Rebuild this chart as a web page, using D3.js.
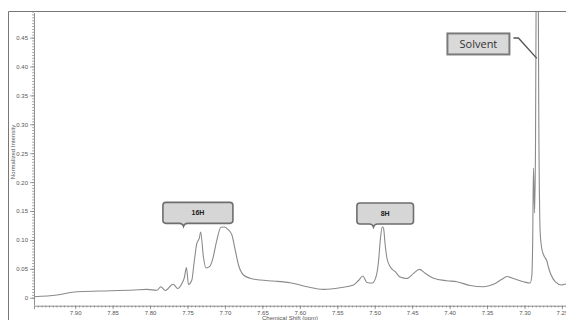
<!DOCTYPE html>
<html>
<head>
<meta charset="utf-8">
<script src="https://cdn.jsdelivr.net/npm/d3@7"></script>
<style>
  body { margin: 0; background: #fff; }
  svg { display: block; }
</style>
</head>
<body>
<svg id="chart"></svg>
<script>
// Spectrum (chemical shift in ppm, normalized intensity)
const shifts = [
  7.9548, 7.9244, 7.8977, 7.8666, 7.8221, 7.8042, 7.7909, 7.7855, 7.7798, 7.7691,
  7.7631, 7.7575, 7.7544, 7.7514, 7.7487, 7.7442, 7.7411, 7.7375, 7.7355, 7.7342,
  7.7324, 7.7288, 7.7252, 7.7199, 7.7161, 7.7108, 7.7054, 7.7010, 7.6961, 7.6907,
  7.6863, 7.6819, 7.6752, 7.6663, 7.6529, 7.6352, 7.6129, 7.5906, 7.5684, 7.5461,
  7.5283, 7.5216, 7.5158, 7.5104, 7.5034, 7.4980, 7.4950, 7.4923, 7.4900, 7.4883,
  7.4860, 7.4837, 7.4793, 7.4726, 7.4660, 7.4570, 7.4482, 7.4402, 7.4326, 7.4215,
  7.4036, 7.3903, 7.3725, 7.3547, 7.3414, 7.3302, 7.3235, 7.3147, 7.3013, 7.2924,
  7.2901, 7.2890, 7.2880, 7.2864, 7.2853, 7.2830, 7.2806, 7.2790, 7.2770, 7.2744,
  7.2701, 7.2677, 7.2650, 7.2590, 7.2501, 7.2457, 7.2417
];
const intensities = [
  0.0017, 0.0047, 0.0104, 0.0116, 0.0133, 0.0145, 0.0128, 0.0190, 0.0125, 0.0232,
  0.0159, 0.0246, 0.0340, 0.0520, 0.0228, 0.0306, 0.0618, 0.0940, 0.0995, 0.1030,
  0.1137, 0.0709, 0.0514, 0.0548, 0.0682, 0.0998, 0.1218, 0.1223, 0.1183, 0.1085,
  0.0825, 0.0566, 0.0393, 0.0336, 0.0306, 0.0289, 0.0260, 0.0190, 0.0145, 0.0173,
  0.0220, 0.0298, 0.0375, 0.0263, 0.0254, 0.0375, 0.0618, 0.1033, 0.1223, 0.1206,
  0.0912, 0.0687, 0.0536, 0.0450, 0.0358, 0.0332, 0.0422, 0.0491, 0.0422, 0.0336,
  0.0294, 0.0277, 0.0211, 0.0190, 0.0232, 0.0318, 0.0367, 0.0332, 0.0277, 0.0254,
  0.0393, 0.0998, 0.2244, 0.1465, 0.2555, 0.9000, 0.2555, 0.1120, 0.0860, 0.0739,
  0.0635, 0.0514, 0.0410, 0.0280, 0.0220, 0.0237, 0.0200
];

const xTicks = [7.90, 7.85, 7.80, 7.75, 7.70, 7.65, 7.60, 7.55, 7.50, 7.45, 7.40, 7.35, 7.30, 7.25];
const yTicks = [0, 0.05, 0.10, 0.15, 0.20, 0.25, 0.30, 0.35, 0.40, 0.45];

// Integration callouts: label, shift at box centre, intensity at box bottom
const calloutLabels = ['16H', '8H'];
const calloutShifts = [7.7361, 7.4860];
const calloutLevels = [0.1287, 0.1275];

const solventLabel = 'Solvent';
const solventShift = 7.3615;
const solventLevel = 0.439;
const solventPeak = [7.2835, 0.414];

const width = 566, height = 320;
const margin = { top: 11, left: 34, bottom: 305.7 };

const svg = d3.select('#chart')
  .attr('width', width)
  .attr('height', height)
  .style('font-family', 'Liberation Sans, Arial, sans-serif');

// Scales
const x = d3.scaleLinear()
  .domain([7.955, 7.24])
  .range([margin.left, 569.4]);

const y = d3.scaleLinear()
  .domain([-0.0138, 0.496])
  .range([margin.bottom, margin.top]);

// Outer frame
svg.append('path')
  .attr('d', `M8.5,${height} V11.5 H${width}`)
  .attr('fill', 'none')
  .attr('stroke', '#777')
  .attr('stroke-width', 1);

// Clip to the plot area
svg.append('clipPath').attr('id', 'plot-clip')
  .append('rect')
  .attr('x', margin.left)
  .attr('y', margin.top + 1)
  .attr('width', width - margin.left)
  .attr('height', margin.bottom - margin.top);

// Y axis
const yAxis = d3.axisLeft(y)
  .tickValues(yTicks)
  .tickSize(4)
  .tickPadding(2)
  .tickFormat(d => d === 0 ? '0' : d3.format('.2f')(d));

const yMinor = d3.axisLeft(y)
  .tickValues(d3.range(0, 0.4951, 0.005))
  .tickSize(1.8)
  .tickFormat('');

svg.append('g')
  .attr('transform', `translate(${margin.left},0)`)
  .call(yMinor)
  .call(g => g.select('.domain').remove());

svg.append('g')
  .attr('class', 'y-axis')
  .attr('transform', `translate(${margin.left},0)`)
  .call(yAxis)
  .call(g => g.select('.domain').attr('d', `M0.5,${margin.top + 2}V${margin.bottom}`));

// X axis
const xAxis = d3.axisBottom(x)
  .tickValues(xTicks)
  .tickSize(3.5)
  .tickPadding(2)
  .tickFormat(d3.format('.2f'));

const xMinor = d3.axisBottom(x)
  .tickValues(d3.range(7.95, 7.2399, -0.005))
  .tickSize(1.8)
  .tickFormat('');

svg.append('g')
  .attr('transform', `translate(0,${margin.bottom})`)
  .call(xMinor)
  .call(g => g.select('.domain').remove());

svg.append('g')
  .attr('class', 'x-axis')
  .attr('transform', `translate(0,${margin.bottom})`)
  .call(xAxis);

svg.selectAll('.domain').attr('stroke', '#777').attr('stroke-width', 0.8);
svg.selectAll('.tick line').attr('stroke', '#777').attr('stroke-width', 0.7);
svg.selectAll('.tick text')
  .attr('fill', '#555')
  .style('font-size', '6px');

// Axis titles
svg.append('text')
  .attr('x', 290)
  .attr('y', 320)
  .attr('text-anchor', 'middle')
  .attr('fill', '#555')
  .style('font-size', '6px')
  .text('Chemical Shift (ppm)');

svg.append('text')
  .attr('transform', 'rotate(-90)')
  .attr('x', -152)
  .attr('y', 15)
  .attr('text-anchor', 'middle')
  .attr('fill', '#555')
  .style('font-size', '6px')
  .text('Normalized Intensity');

// Spectrum
const points = shifts.map((s, i) => [s, intensities[i]]);
const line = d3.line()
  .x(d => x(d[0]))
  .y(d => y(d[1]))
  .curve(d3.curveMonotoneX);

svg.append('path')
  .datum(points.slice().reverse())
  .attr('clip-path', 'url(#plot-clip)')
  .attr('fill', 'none')
  .attr('stroke', '#8a8a8a')
  .attr('stroke-width', 1.1)
  .attr('stroke-linejoin', 'round')
  .attr('d', line);

// Integration callouts (rounded box with a small notch pointing down)
function calloutPath(cx, bottom, w, h, notchX) {
  const l = cx - w / 2, r = cx + w / 2, t = bottom - h, rr = 3;
  return `M${l + rr},${t} H${r - rr} Q${r},${t} ${r},${t + rr} V${bottom - rr}` +
    ` Q${r},${bottom} ${r - rr},${bottom} H${notchX + 4}` +
    ` Q${notchX + 1},${bottom} ${notchX},${bottom + 3} Q${notchX - 1},${bottom} ${notchX - 4},${bottom}` +
    ` H${l + rr} Q${l},${bottom} ${l},${bottom - rr} V${t + rr} Q${l},${t} ${l + rr},${t} Z`;
}

const boxWidths = [70, 56.6];
const notchOffsets = [-14.4, -11.7];

calloutLabels.forEach((label, i) => {
  const cx = x(calloutShifts[i]);
  const bottom = y(calloutLevels[i]);
  svg.append('path')
    .attr('d', calloutPath(cx, bottom, boxWidths[i], 21, cx + notchOffsets[i]))
    .attr('fill', '#d6d6d6')
    .attr('stroke', '#6e6e6e')
    .attr('stroke-width', 1.6);
  svg.append('text')
    .attr('x', cx)
    .attr('y', bottom - 8)
    .attr('text-anchor', 'middle')
    .attr('fill', '#222')
    .style('font-size', '7px')
    .style('font-weight', 'bold')
    .text(label);
});

// Solvent callout
const sx = x(solventShift), sy = y(solventLevel);
svg.append('rect')
  .attr('x', sx - 31)
  .attr('y', sy - 10.5)
  .attr('width', 62)
  .attr('height', 21)
  .attr('fill', '#d9d9d9')
  .attr('stroke', '#7a7a7a')
  .attr('stroke-width', 2);

svg.append('text')
  .attr('x', sx)
  .attr('y', sy + 3.8)
  .attr('text-anchor', 'middle')
  .attr('fill', '#333')
  .style('font-size', '11px')
  .style('font-family', 'Open Sans, sans-serif')
  .text(solventLabel);

svg.append('path')
  .attr('d', `M${sx + 35},${sy - 6} H${sx + 40} L${x(solventPeak[0])},${y(solventPeak[1])}`)
  .attr('fill', 'none')
  .attr('stroke', '#555')
  .attr('stroke-width', 1.4);
</script>
</body>
</html>
